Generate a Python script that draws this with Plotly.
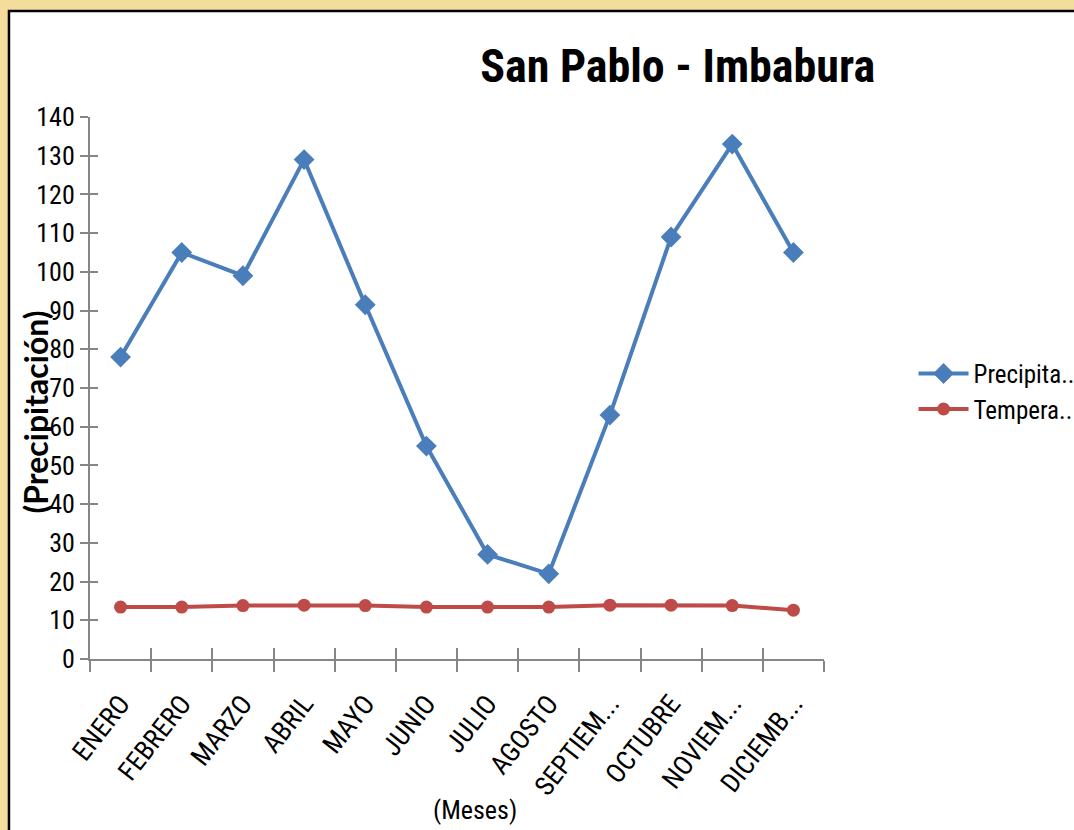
import plotly.graph_objects as go

meses = ["ENERO", "FEBRERO", "MARZO", "ABRIL", "MAYO", "JUNIO", "JULIO",
         "AGOSTO", "SEPTIEM...", "OCTUBRE", "NOVIEM...", "DICIEMB..."]
precipitacion = [78, 105, 99, 129, 91.5, 55, 27, 22, 63, 109, 133, 105]
temperatura = [13.4, 13.4, 13.8, 13.9, 13.8, 13.4, 13.4, 13.4, 13.9, 13.9, 13.8, 12.6]
y_ticks = list(range(0, 141, 10))

FONT = "Liberation Sans Narrow, Roboto Condensed, Lato, sans-serif"
AX = "#868686"
GOLD = "#f3dc9c"

fig = go.Figure()
fig.add_trace(go.Scatter(x=meses, y=precipitacion, name="Precipita..",
                         mode="lines+markers",
                         line=dict(color="#4a7ebb", width=4),
                         marker=dict(symbol="diamond", size=16, color="#4a7ebb")))
fig.add_trace(go.Scatter(x=meses, y=temperatura, name="Tempera..",
                         mode="lines+markers",
                         line=dict(color="#be4b48", width=4),
                         marker=dict(symbol="circle", size=13, color="#be4b48")))
# invisible copy on overlay axes so the inner half of crossing ticks is drawn
fig.add_trace(go.Scatter(x=meses, y=precipitacion, xaxis="x2", yaxis="y2",
                         mode="markers", marker=dict(opacity=0),
                         showlegend=False, hoverinfo="skip"))

fig.update_layout(
    width=1074, height=830,
    margin=dict(l=90, r=250, t=117, b=171, autoexpand=False),
    paper_bgcolor=GOLD,
    plot_bgcolor="white",
    font=dict(family=FONT, color="black"),
    title=dict(text="<b>San Pablo - Imbabura</b>", x=0.631, xanchor="center",
               y=0.921, yanchor="middle",
               font=dict(family=FONT, size=46, color="black")),
    showlegend=True,
    legend=dict(x=1.122, y=0.494, xanchor="left", yanchor="middle",
                font=dict(size=25), bgcolor="rgba(0,0,0,0)", itemwidth=50,
                tracegroupgap=0),
    xaxis=dict(type="category", range=[-0.5, 11.5], tickson="boundaries",
               ticks="outside", ticklen=11, tickcolor=AX, tickwidth=1.5,
               showline=True, linecolor=AX, linewidth=2, showgrid=False,
               tickangle=-52, tickfont=dict(size=27), ticklabelstandoff=16),
    yaxis=dict(range=[0, 140], tickvals=y_ticks, ticks="outside", ticklen=8,
               tickcolor=AX, tickwidth=1.5, showline=True, linecolor=AX,
               linewidth=2, showgrid=False, zeroline=False,
               tickfont=dict(size=26)),
    xaxis2=dict(type="category", overlaying="x", matches="x", side="bottom",
                tickson="boundaries", ticks="inside", ticklen=11, tickcolor=AX,
                tickwidth=1.5, showticklabels=False, showgrid=False,
                showline=False),
    yaxis2=dict(overlaying="y", matches="y", side="left", tickvals=y_ticks,
                ticks="inside", ticklen=8, tickcolor=AX, tickwidth=1.5,
                showticklabels=False, showgrid=False, zeroline=False,
                showline=False),
    shapes=[dict(type="rect", xref="paper", yref="paper",
                 x0=-0.1104, x1=1.6, y0=-0.5, y1=1.1956,
                 fillcolor="white", line=dict(color="black", width=2.5),
                 layer="below")],
    annotations=[
        dict(text="<b>(Precipitación)</b>", xref="paper", yref="paper",
             x=-0.074, y=0.456, textangle=-90, showarrow=False,
             xanchor="center", yanchor="middle",
             font=dict(family="Lato, sans-serif", size=32, color="black")),
        dict(text="(Meses)", xref="paper", yref="paper",
             x=0.5245, y=-0.2786, showarrow=False,
             xanchor="center", yanchor="middle",
             font=dict(size=26, color="black")),
    ],
)
fig.write_html(
    "out.html",
    config={"displayModeBar": False},
    post_script="document.body.style.margin='0';"
                "document.body.style.background='%s';" % GOLD)
